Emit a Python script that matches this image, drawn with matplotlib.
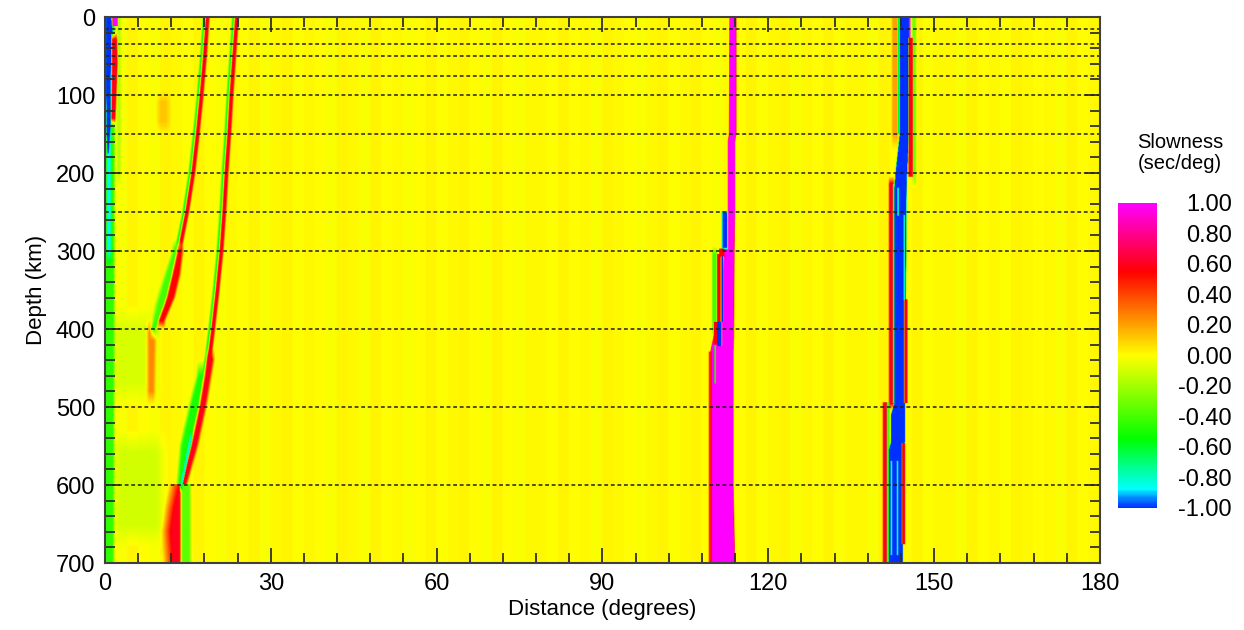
import numpy as np
import matplotlib.pyplot as plt
import matplotlib as mpl
from matplotlib.colors import LinearSegmentedColormap
from matplotlib.ticker import MultipleLocator, FixedLocator, FixedFormatter

mpl.rcParams['font.family'] = ['Liberation Sans', 'DejaVu Sans']
mpl.rcParams['font.size'] = 16

# dotted layer boundaries (km)
layer_depths = [15, 35, 50, 75, 100, 150, 200, 250, 300, 400, 500, 600]

# colour scale nodes (value, colour)
cmap_vals = [-1.0, -0.93, -0.88, -0.55, 0.0, 0.55, 1.0]
cmap_cols = ['#0030ff', '#0096ff', '#00ffff', '#00ff00', '#ffff00', '#ff0000', '#ff00ff']
cbar_ticks = [1.0, 0.8, 0.6, 0.4, 0.2, 0.0, -0.2, -0.4, -0.6, -0.8, -1.0]
cbar_labels = ['1.00', '0.80', '0.60', '0.40', '0.20', '0.00',
               '-0.20', '-0.40', '-0.60', '-0.80', '-1.00']

# faint background striping, one value per 2 degrees (hundredths)
stripe_tint = [3, -2, 4, 0, -3, 5, 2, -1, 4, 1, -3, 3, 0, 5, -2, 2, 4, -1, 3, 0,
               -3, 4, 2, -2, 5, 0, 3, -2, 1, 4, -1, 3, 5, 0, -2, 4, 1, -3, 3, 2,
               -1, 5, 0, 3, -2, 4, 2, 0, -3, 3, 5, -1, 2, 4, 0, -2, 3, 1, 4, -1,
               2, 5, -2, 3, 0, 4, -1, 2, 3, -2, 5, 1, 0, 4, -1, 3, 2, -2, 4, 0,
               3, -1, 5, 2, 0, 3, -2, 4, 1, 2]

# travel-time branches, centre line (depth km, distance deg)
branch1_depth = [0, 50, 100, 150, 200, 250, 300, 350, 400]
branch1_dist = [18.3, 17.8, 17.2, 16.5, 15.7, 14.6, 13.2, 11.3, 9.0]
branch2_depth = [0, 50, 100, 150, 200, 250, 300, 350, 400, 450, 500, 550, 600]
branch2_dist = [23.6, 23.1, 22.6, 22.2, 21.7, 21.3, 20.8, 20.1, 19.3, 18.4, 17.2, 15.7, 13.9]

# patches: (depths, left edges, right edges, slowness, edge softness deg, edge softness km)
halo_patches = [
    ([400, 470], [2.5, 2.5], [8.0, 8.0], -0.08, 2.5, 30),
    ([560, 650], [3.0, 3.0], [9.0, 9.0], -0.1, 2.5, 30),
    ([110, 135], [10.0, 10.0], [11.0, 11.0], 0.12, 1.0, 15),
    ([405, 480], [8.0, 8.0], [8.8, 8.6], 0.25, 0.8, 20),
    ([0, 700], [0.2, 0.2], [1.5, 1.3], -0.45, 0.5, 0),
    ([0, 200], [2.3, 2.3], [2.6, 2.6], -0.15, 0.4, 20),
    ([120, 300], [0.4, 0.4], [0.9, 0.9], -0.85, 0.2, 20),
    ([0, 20, 100, 150, 175], [0.2, 0.2, 0.2, 0.3, 0.5], [1.0, 1.3, 1.2, 0.8, 0.55], -1.0, 0.15, 0),
    ([30, 60, 130], [1.3, 1.3, 1.2], [2.0, 2.1, 1.7], 0.6, 0.3, 10),
    ([0, 12], [1.4, 1.4], [2.1, 2.1], 1.0, 0.2, 0),
]
core_patches = [
    # upper-mantle triplication
    ([300, 340, 370, 400], [12.6, 10.8, 9.6, 8.8], [13.2, 11.7, 10.7, 9.0], -0.4, 0.8, 15),
    ([460, 500, 550, 600], [17.0, 15.6, 14.0, 13.4], [18.2, 17.2, 15.7, 13.9], -0.5, 0.7, 20),
    ([440, 500, 550, 600], [18.7, 17.3, 15.8, 14.0], [19.3, 17.9, 16.4, 14.4], 0.6, 0.6, 15),
    ([600, 630, 660, 700], [13.5, 12.6, 12.0, 12.4], [13.9, 13.9, 13.9, 13.8], 0.6, 2.0, 0),
    ([600, 700], [14.0, 14.0], [15.2, 15.2], -0.35, 0.6, 0),
    ([300, 330, 360, 390], [13.3, 12.4, 11.4, 9.9], [13.8, 13.3, 12.3, 10.5], 0.55, 0.5, 10),
    ([540, 600], [15.3, 13.6], [15.7, 13.9], -0.8, 0.15, 10),
    # core shadow edge near 110-114 deg
    ([0, 150, 160, 250, 300, 400, 410, 430, 600, 700],
     [113.1, 113.0, 112.8, 112.8, 112.0, 111.6, 110.2, 109.6, 109.6, 109.6],
     [114.15, 114.15, 113.9, 113.9, 113.8, 113.7, 113.7, 113.6, 113.6, 113.9], 1.0, 0.15, 0),
    ([250, 298], [111.65, 111.65], [112.65, 112.65], -0.85, 0.1, 0),
    ([252, 296], [111.8, 111.8], [112.5, 112.5], -1.0, 0.1, 0),
    ([298, 308], [111.2, 111.2], [112.0, 112.0], 0.55, 0.15, 0),
    ([305, 400], [110.0, 110.0], [110.6, 110.6], -0.4, 0.3, 10),
    ([305, 395], [110.8, 110.8], [111.3, 111.3], 0.55, 0.15, 0),
    ([308, 391], [111.55, 111.55], [111.85, 111.85], -1.0, 0.08, 0),
    ([392, 420], [110.2, 110.2], [110.7, 110.7], 0.55, 0.15, 0),
    ([392, 422], [110.8, 110.8], [111.55, 111.55], -1.0, 0.1, 0),
    ([430, 700], [109.4, 109.4], [109.6, 109.6], 0.5, 0.3, 0),
    ([422, 470], [110.3, 110.3], [110.45, 110.45], -0.5, 0.1, 0),
    # PKP branches near 142-146 deg
    ([0, 150], [142.6, 142.6], [143.3, 143.3], 0.2, 0.4, 20),
    ([0, 200], [146.2, 146.2], [146.6, 146.6], -0.3, 0.3, 20),
    ([0, 150], [143.5, 143.5], [143.9, 143.9], -0.6, 0.15, 0),
    ([215, 495], [142.0, 142.0], [142.6, 142.6], 0.6, 0.3, 10),
    ([215, 495], [142.6, 142.6], [142.9, 142.9], -0.4, 0.1, 0),
    ([495, 700], [140.9, 140.9], [141.5, 141.5], 0.6, 0.3, 0),
    ([495, 700], [141.5, 141.5], [141.9, 141.9], -0.4, 0.1, 0),
    ([0, 148, 200, 220, 495, 510, 545, 555, 700],
     [143.9, 143.9, 143.1, 142.9, 142.9, 142.3, 142.3, 141.9, 141.9],
     [145.5, 145.5, 145.1, 145.0, 144.7, 144.7, 144.7, 144.3, 144.3], -1.0, 0.15, 0),
    ([0, 28], [145.5, 145.5], [145.7, 145.7], 1.0, 0.1, 0),
    ([28, 205], [145.5, 145.5], [146.1, 146.1], 0.6, 0.2, 0),
    ([363, 495], [144.7, 144.7], [145.1, 145.1], 0.6, 0.2, 0),
    ([547, 676], [144.3, 144.3], [144.7, 144.7], 0.6, 0.15, 0),
    ([220, 255], [143.4, 143.4], [143.6, 143.6], -0.8, 0.08, 0),
    ([255, 363], [144.55, 144.55], [144.7, 144.7], -0.8, 0.08, 0),
    ([570, 690], [142.2, 142.2], [142.4, 142.4], -0.8, 0.08, 0),
    ([570, 690], [143.3, 143.3], [143.5, 143.5], -0.8, 0.08, 0),
]

dist = np.linspace(0, 180, 1801)
depth = np.arange(0, 701)
X = dist[None, :]

# background
col_idx = np.minimum((dist // 2).astype(int), len(stripe_tint) - 1)
field = np.tile(np.array(stripe_tint, dtype=float)[col_idx] / 250.0, (len(depth), 1))


def paint(field, zs, left, right, value, soft, zsoft=0):
    zl = np.interp(depth, zs, left)[:, None]
    zr = np.interp(depth, zs, right)[:, None]
    d = np.maximum(np.maximum(zl - X, X - zr), 0)
    w = np.clip(1 - d / soft, 0, 1)
    dz = np.maximum(np.maximum(zs[0] - depth, depth - zs[-1]), 0)
    if zsoft > 0:
        wz = np.clip(1 - dz / zsoft, 0, 1)
    else:
        wz = (dz == 0).astype(float)
    w = w * wz[:, None]
    return field * (1 - w) + value * w


for p in halo_patches:
    field = paint(field, *p)

# branch sides: green on the near side, red on the far side
b1 = np.array(branch1_dist)
b2 = np.array(branch2_dist)
field = paint(field, branch1_depth, b1 - 0.45, b1 - 0.02, -0.5, 0.35)
field = paint(field, branch1_depth, b1 + 0.02, b1 + 0.4, 0.6, 0.35)
field = paint(field, branch2_depth, b2 - 0.45, b2 - 0.02, -0.5, 0.35)
field = paint(field, branch2_depth, b2 + 0.02, b2 + 0.4, 0.6, 0.35)

for p in core_patches:
    field = paint(field, *p)

field = np.clip(field, -1, 1)

cmap = LinearSegmentedColormap.from_list(
    'slow', [((v + 1) / 2, c) for v, c in zip(cmap_vals, cmap_cols)])

fig = plt.figure(figsize=(12.44, 6.30), dpi=100)
ax = fig.add_axes([0.0844, 0.1063, 0.7998, 0.8667])
im = ax.imshow(field, cmap=cmap, vmin=-1, vmax=1, aspect='auto',
               extent=[0, 180, 700, 0], interpolation='antialiased')

for d in layer_depths:
    ax.axhline(d, color='#202020', lw=1.1, linestyle=(0, (2.5, 1.8)))

ax.set_xlim(0, 180)
ax.set_ylim(700, 0)
ax.xaxis.set_major_locator(MultipleLocator(30))
ax.xaxis.set_minor_locator(MultipleLocator(6))
ax.yaxis.set_major_locator(MultipleLocator(100))
ax.yaxis.set_minor_locator(MultipleLocator(20))
ax.tick_params(which='both', direction='in', top=True, right=True,
               color='#303030', width=1.3, labelsize=17)
ax.tick_params(which='major', length=11, pad=7)
ax.tick_params(which='minor', length=7)
for sp in ax.spines.values():
    sp.set_color('#404040')
    sp.set_linewidth(1.5)
ax.set_xlabel('Distance (degrees)', fontsize=16, labelpad=3)
ax.set_ylabel('Depth (km)', fontsize=16, labelpad=6)

cax = fig.add_axes([0.8987, 0.1937, 0.0314, 0.4841])
cb = fig.colorbar(im, cax=cax)
cb.outline.set_visible(False)
cax.yaxis.set_major_locator(FixedLocator(cbar_ticks))
cax.yaxis.set_major_formatter(FixedFormatter(cbar_labels))
cax.tick_params(length=0, pad=54, labelsize=17)
for lab in cax.get_yticklabels():
    lab.set_horizontalalignment('right')
fig.text(0.9485, 0.757, 'Slowness\n(sec/deg)', ha='center', va='center',
         fontsize=14.5, linespacing=1.1)

fig.savefig('out.png', dpi=100)
